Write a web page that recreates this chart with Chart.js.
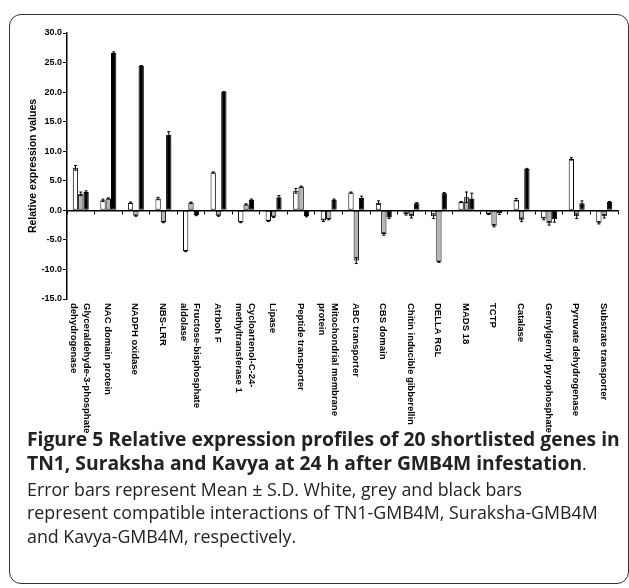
<!DOCTYPE html>
<html>
<head>
<meta charset="utf-8">
<script src="https://cdn.jsdelivr.net/npm/chart.js"></script>
<style>
  body { margin: 0; background: #fff; }
  .frame {
    position: absolute; left: 9px; top: 14px; width: 618px; height: 568px;
    border: 1px solid #333; border-radius: 12px;
  }
  .wrap { position: absolute; left: 0; top: 0; width: 629px; height: 440px; }
  .caption {
    position: absolute; left: 27px; top: 427px; white-space: nowrap;
    font-family: "Open Sans", sans-serif; color: #222;
  }
  .caption b { display: block; line-height: 24px; font-weight: 700; font-size: 19.3px; }
  .caption span { display: block; line-height: 23.5px; font-size: 17.8px; }
  .caption .first { margin-top: 2px; }
</style>
</head>
<body>
<div class="frame"></div>
<div class="wrap"><canvas id="myChart" width="629" height="440"></canvas></div>
<div class="caption">
  <b>Figure 5 Relative expression profiles of 20 shortlisted genes in</b>
  <b>TN1, Suraksha and Kavya at 24 h after GMB4M infestation<span style="display:inline;font-weight:400;font-size:17.8px">.</span></b>
  <span class="first">Error bars represent Mean ± S.D. White, grey and black bars</span>
  <span>represent compatible interactions of TN1-GMB4M, Suraksha-GMB4M</span>
  <span>and Kavya-GMB4M, respectively.</span>
</div>
<script>
const genes = [
  ['Glyceraldehyde-3-phosphate', 'dehydrogenase'],
  'NAC domain protein',
  'NADPH oxidase',
  'NBS-LRR',
  ['Fructose-bisphosphate', 'aldolase'],
  'Atrboh F',
  ['Cycloartenol-C-24-', 'methyltransferase 1'],
  'Lipase',
  'Peptide transporter',
  ['Mitochondrial membrane', 'protein'],
  'ABC transporter',
  'CBS domain',
  'Chitin inducible gibberellin',
  'DELLA RGL',
  'MADS 18',
  'TCTP',
  'Catalase',
  'Gernylgernyl pyrophosphate',
  'Pyruvate dehydrogenase',
  'Substrate transporter'
]

const tn1 =      [7.2, 1.7, 1.3, 2.0, -6.9, 6.4, -2.0, -1.8, 3.3, -1.7, 3.0, 1.3, -0.6, -1.0, 1.4, -0.6, 1.8, -1.4, 8.7, -2.1]
const suraksha = [2.8, 2.0, -0.9, -2.0, 1.3, -0.9, 1.0, -1.1, 4.0, -1.5, -8.5, -4.0, -1.0, -8.7, 2.2, -2.6, -1.6, -2.2, -1.0, -1.0]
const kavya =    [3.1, 26.6, 24.4, 12.8, -0.8, 20.0, 1.8, 2.2, -1.0, 1.8, 2.1, -1.2, 1.2, 2.9, 2.0, -0.5, 7.0, -1.5, 1.2, 1.4]

const tn1Sd =      [0.4, 0.2, 0.1, 0.2, 0.1, 0.1, 0.1, 0.1, 0.4, 0.2, 0.1, 0.3, 0.2, 0.4, 0.1, 0.1, 0.2, 0.2, 0.2, 0.2]
const surakshaSd = [0.3, 0.1, 0.1, 0.1, 0.1, 0.1, 0.1, 0.1, 0.1, 0.1, 0.5, 0.2, 0.3, 0.1, 0.9, 0.2, 0.3, 0.3, 0.4, 0.3]
const kavyaSd =    [0.2, 0.2, 0.1, 0.5, 0.1, 0.1, 0.1, 0.3, 0.1, 0.1, 0.3, 0.2, 0.1, 0.1, 0.9, 0.2, 0.1, 0.5, 0.4, 0.1]

const yTicks = [-15, -10, -5, 0, 5, 10, 15, 20, 25, 30]

const FONT = "'Liberation Sans', Arial, sans-serif"

// error bars: T caps on both sides of the bar end
const errorBars = {
  id: 'errorBars',
  afterDatasetsDraw(chart) {
    const ctx = chart.ctx
    const yScale = chart.scales.y
    ctx.save()
    ctx.strokeStyle = '#000'
    ctx.lineWidth = 1
    chart.data.datasets.forEach((ds, di) => {
      const meta = chart.getDatasetMeta(di)
      meta.data.forEach((bar, i) => {
        const v = ds.data[i]
        const e = ds.sd[i]
        const y1 = yScale.getPixelForValue(v + e)
        const y2 = yScale.getPixelForValue(v - e)
        ctx.beginPath()
        ctx.moveTo(bar.x, y1); ctx.lineTo(bar.x, y2)
        ctx.moveTo(bar.x - 1.5, y1); ctx.lineTo(bar.x + 1.5, y1)
        ctx.moveTo(bar.x - 1.5, y2); ctx.lineTo(bar.x + 1.5, y2)
        ctx.stroke()
      })
    })
    ctx.restore()
  }
}

// gene names, turned to read downwards, under the plot
const geneLabels = {
  id: 'geneLabels',
  afterDraw(chart) {
    const ctx = chart.ctx
    const xScale = chart.scales.x
    const top = chart.chartArea.bottom + 4
    const lh = 13
    ctx.save()
    ctx.font = 'bold 9.5px ' + FONT
    ctx.fillStyle = '#000'
    ctx.textAlign = 'left'
    ctx.textBaseline = 'middle'
    genes.forEach((g, i) => {
      const lines = Array.isArray(g) ? g : [g]
      const x = xScale.getPixelForValue(i) - 1
      ctx.save()
      ctx.translate(x, top)
      ctx.rotate(Math.PI / 2)
      lines.forEach((t, k) => {
        ctx.fillText(t, 0, (k - (lines.length - 1) / 2) * lh)
      })
      ctx.restore()
    })
    ctx.restore()
  }
}

const ctx = document.getElementById('myChart').getContext('2d')
const barStyle = { borderColor: '#000', borderWidth: 1, borderSkipped: false, categoryPercentage: 0.58, barPercentage: 1.0 }

new Chart(ctx, {
  type: 'bar',
  data: {
    labels: genes,
    datasets: [
      { label: 'TN1-GMB4M', data: tn1, sd: tn1Sd, backgroundColor: '#fff', ...barStyle },
      { label: 'Suraksha-GMB4M', data: suraksha, sd: surakshaSd, backgroundColor: '#b5b5b5', ...barStyle },
      { label: 'Kavya-GMB4M', data: kavya, sd: kavyaSd, backgroundColor: '#000', ...barStyle },
    ]
  },
  options: {
    responsive: false,
    animation: false,
    layout: { padding: { left: 25, right: 11, top: 33, bottom: 141 } },
    plugins: { legend: { display: false }, tooltip: { enabled: false } },
    scales: {
      x: {
        position: { y: 0 },
        grid: { display: true, drawOnChartArea: false, drawTicks: true, tickLength: 3, color: '#000', offset: true },
        border: { display: true, color: '#000', width: 1.5 },
        ticks: { display: false }
      },
      y: {
        min: -15,
        max: 30,
        afterBuildTicks: (scale) => { scale.ticks = yTicks.map(v => ({ value: v })) },
        afterFit: (scale) => { scale.width = 42 },
        ticks: {
          callback: (v) => v.toFixed(1),
          font: { family: FONT, size: 9, weight: 'bold' },
          color: '#000',
          padding: 1
        },
        grid: { display: true, drawOnChartArea: false, drawTicks: true, tickLength: 4, color: '#000' },
        border: { display: true, color: '#000', width: 1.5 },
        title: {
          display: true,
          text: 'Relative expression values',
          font: { family: FONT, size: 10.5, weight: 'bold' },
          color: '#000',
          padding: { top: 2, bottom: 0 }
        }
      }
    }
  },
  plugins: [errorBars, geneLabels]
})
</script>
</body>
</html>
